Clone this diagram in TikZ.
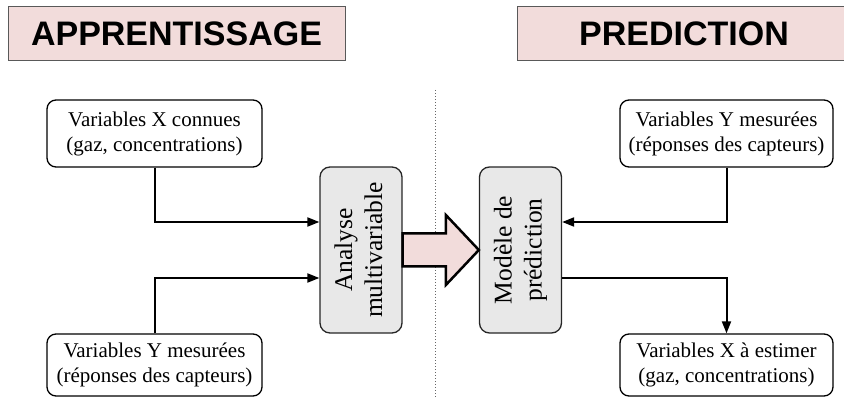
\documentclass[tikz,border=0pt]{standalone}
\usepackage{fontspec}
\setmainfont{Liberation Serif}
\newfontfamily\hdrfont{Liberation Sans}
\usetikzlibrary{arrows.meta,calc}
\definecolor{hdrpink}{HTML}{F2DCDB}
\definecolor{boxgray}{HTML}{E8E8E8}
\begin{document}
\begin{tikzpicture}[x=1pt,y=-1pt,
  hdrbox/.style={draw=black!65, line width=1pt, fill=hdrpink, minimum height=54pt, inner sep=0pt,
    font=\hdrfont\bfseries\fontsize{34}{40}\selectfont},
  varbox/.style={draw=black, line width=1.3pt, rounded corners=9pt, fill=white, minimum width=215pt,
    minimum height=67pt, align=center, inner sep=0pt, font=\fontsize{21}{25}\selectfont},
  procbox/.style={draw=black!85, line width=1.3pt, rounded corners=10pt, fill=boxgray, minimum width=82pt,
    minimum height=166pt, inner sep=0pt, font=\fontsize{25.5}{30}\selectfont},
  conn/.style={line width=2pt, -{Triangle[length=12pt,width=9pt]}},
  bigarrow/.style={draw=black, line width=2.5pt, fill=hdrpink, line join=miter}]
\useasboundingbox (0,0) rectangle (844,398);
\node[hdrbox, minimum width=337pt] (h1) at (176.5,34) {APPRENTISSAGE};
\node[hdrbox, minimum width=334pt] (h2) at (684,34) {PREDICTION};
\coordinate (s1) at (435,90);
\coordinate (s2) at (435,398);
\draw[dotted, black!60, line width=1pt] (s1) -- (s2);
\node[varbox] (tl) at (154.5,133.5) {Variables X connues\\(gaz, concentrations)};
\node[varbox, minimum height=62pt] (bl) at (154.5,365) {Variables Y mesurées\\(réponses des capteurs)};
\node[varbox, minimum width=213pt] (tr) at (726.5,133.5) {Variables Y mesurées\\(réponses des capteurs)};
\node[varbox, minimum width=213pt, minimum height=62pt] (br) at (726.5,365) {Variables X à estimer\\(gaz, concentrations)};
\node[procbox] (ana) at (361,250) {\rotatebox{90}{\begin{tabular}{@{}c@{}}Analyse\\multivariable\end{tabular}}};
\node[procbox] (mod) at (520.5,250) {\rotatebox{90}{\begin{tabular}{@{}c@{}}Modèle de\\prédiction\end{tabular}}};
\draw[bigarrow] ($(ana.east)+(0,-16.5)$) -- ($(mod.west)+(-33,-16.5)$) -- ($(mod.west)+(-33,-35)$)
  -- (mod.west) -- ($(mod.west)+(-33,35)$) -- ($(mod.west)+(-33,16.5)$) -- ($(ana.east)+(0,16.5)$) -- cycle;
\draw[conn] (tl.south) |- ($(ana.west)+(0,-28)$);
\draw[conn] (bl.north) |- ($(ana.west)+(0,28)$);
\draw[conn] (tr.south) |- ($(mod.east)+(0,-28)$);
\draw[conn] ($(mod.east)+(0,28)$) -| (br.north);
\end{tikzpicture}
\end{document}
